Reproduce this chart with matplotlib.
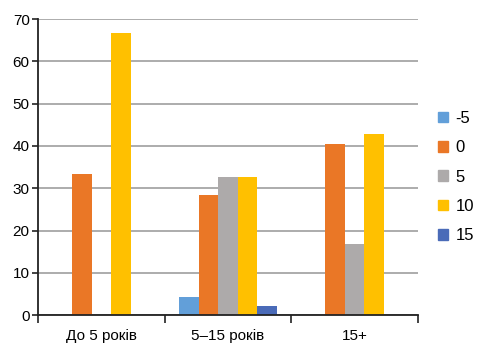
import numpy as np
import matplotlib
matplotlib.use('Agg')
import matplotlib.pyplot as plt
from matplotlib.patches import Patch

plt.rcParams['font.family'] = ['Liberation Sans Narrow', 'Liberation Sans', 'DejaVu Sans']

groups = ['До 5 років', '5–15 років', '15+']
series = ['-5', '0', '5', '10', '15']
values = {
    '-5': [0, 4.3, 0],
    '0': [33.3, 28.3, 40.5],
    '5': [0, 32.6, 16.7],
    '10': [66.7, 32.6, 42.9],
    '15': [0, 2.2, 0],
}
colors = ['#629FD9', '#EA7726', '#ADAAAA', '#FFC000', '#4A6BB8']

fig = plt.figure(figsize=(4.78, 3.54), dpi=100)
ax = fig.add_axes([0.0795, 0.110, 0.795, 0.836])

x = np.arange(len(groups))
w = 1 / 6.5
for i, s in enumerate(series):
    ax.bar(x + (i - 2) * w, values[s], width=w, color=colors[i], zorder=3)

ax.set_xlim(-0.5, 2.5)
ax.set_ylim(0, 70)
ax.set_yticks(range(0, 71, 10))
ax.yaxis.grid(True, color='#A6A6A6', linewidth=1.3, zorder=0)
ax.set_xticks(x)
ax.set_xticklabels(groups)
ax.set_xticks([-0.5, 0.5, 1.5, 2.5], minor=True)
ax.tick_params(axis='x', which='major', length=0, pad=10, labelsize=11)
ax.tick_params(axis='x', which='minor', length=6, width=1.2, color='#222222')
ax.tick_params(axis='y', length=4, width=1.2, color='#222222', labelsize=11, pad=2)
for sp in ['top', 'right']:
    ax.spines[sp].set_visible(False)
for sp in ['left', 'bottom']:
    ax.spines[sp].set_color('#222222')
    ax.spines[sp].set_linewidth(1.3)
    ax.spines[sp].set_zorder(4)

handles = [Patch(color=c, label=s) for c, s in zip(colors, series)]
fig.legend(handles=handles, loc='center left', bbox_to_anchor=(0.885, 0.5),
           frameon=False, handlelength=0.6, handleheight=0.6, handletextpad=0.45,
           labelspacing=0.86, fontsize=12)

fig.savefig('out.png', dpi=100)
